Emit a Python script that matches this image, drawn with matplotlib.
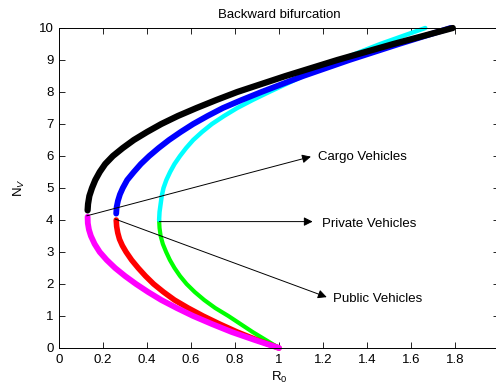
import matplotlib
matplotlib.use("Agg")
import matplotlib.pyplot as plt

plt.rcParams['font.family'] = ['Liberation Sans', 'DejaVu Sans']
plt.rcParams['mathtext.fontset'] = 'custom'
plt.rcParams['mathtext.rm'] = 'Liberation Sans'
plt.rcParams['mathtext.it'] = 'Liberation Sans:italic'

# ---- data (N_V on y, R_0 on x) ----
black_N = [4.3, 4.5, 4.75, 5.0, 5.25, 5.5, 5.75, 6.0, 6.25, 6.5, 6.75, 7.0, 7.25,
           7.5, 7.75, 8.0, 8.5, 9.0, 9.5, 10.0]
black_R = [0.13, 0.132, 0.138, 0.15, 0.165, 0.185, 0.21, 0.245, 0.29, 0.34, 0.4, 0.465, 0.54,
           0.625, 0.715, 0.81, 1.03, 1.265, 1.52, 1.79]

magenta_N = [4.1, 3.9, 3.7, 3.5, 3.25, 3.0, 2.75, 2.5, 2.25, 2.0, 1.75, 1.5, 1.25,
             1.0, 0.75, 0.5, 0.25, 0.0]
magenta_R = [0.13, 0.131, 0.136, 0.145, 0.162, 0.185, 0.217, 0.255, 0.3, 0.35, 0.405, 0.465, 0.535,
             0.61, 0.695, 0.785, 0.89, 1.0]

blue_N = [4.2, 4.4, 4.6, 4.8, 5.0, 5.25, 5.5, 5.75, 6.0, 6.25, 6.5, 6.75, 7.0,
          7.25, 7.5, 7.75, 8.0, 8.5, 9.0, 9.5, 10.0]
blue_R = [0.26, 0.262, 0.268, 0.277, 0.29, 0.31, 0.34, 0.372, 0.41, 0.453, 0.5, 0.553, 0.61,
          0.675, 0.745, 0.83, 0.92, 1.11, 1.32, 1.545, 1.78]

red_N = [4.0, 3.8, 3.6, 3.4, 3.2, 3.0, 2.75, 2.5, 2.25, 2.0, 1.75, 1.5, 1.25,
         1.0, 0.75, 0.5, 0.25, 0.0]
red_R = [0.26, 0.262, 0.267, 0.275, 0.288, 0.305, 0.33, 0.36, 0.393, 0.43, 0.475, 0.525, 0.587,
         0.655, 0.73, 0.81, 0.9, 1.0]

cyan_N = [4.0, 4.25, 4.5, 4.75, 5.0, 5.25, 5.5, 5.75, 6.0, 6.25, 6.5, 6.75, 7.0,
          7.25, 7.5, 7.75, 8.0, 8.5, 9.0, 9.5, 10.0]
cyan_R = [0.455, 0.457, 0.462, 0.467, 0.475, 0.488, 0.505, 0.525, 0.55, 0.578, 0.61, 0.65, 0.695,
          0.75, 0.81, 0.88, 0.955, 1.11, 1.275, 1.46, 1.665]

green_N = [4.0, 3.75, 3.5, 3.25, 3.0, 2.75, 2.5, 2.25, 2.0, 1.75, 1.5, 1.25,
           1.0, 0.75, 0.5, 0.25, 0.0]
green_R = [0.455, 0.457, 0.462, 0.472, 0.487, 0.504, 0.525, 0.55, 0.58, 0.617, 0.66, 0.71,
           0.77, 0.825, 0.88, 0.94, 1.0]

x_ticks = [0, 0.2, 0.4, 0.6, 0.8, 1.0, 1.2, 1.4, 1.6, 1.8, 2.0]
x_tick_labels = ['0', '0.2', '0.4', '0.6', '0.8', '1', '1.2', '1.4', '1.6', '1.8', '2']
y_ticks = [0, 1, 2, 3, 4, 5, 6, 7, 8, 9, 10]

# annotations: (label, start R, start N, tip R, tip N, text R, text N)
annotations = [
    ("Cargo Vehicles", 0.126, 4.13, 1.145, 5.98, 1.176, 5.97),
    ("Private Vehicles", 0.455, 3.95, 1.153, 3.95, 1.194, 3.87),
    ("Public Vehicles", 0.255, 4.03, 1.217, 1.59, 1.244, 1.52),
]

fig = plt.figure(figsize=(4.96, 3.92), dpi=100)
ax = fig.add_axes([59/496, 1 - 348/392, 440/496, 320/392])

kw = dict(solid_capstyle='round', solid_joinstyle='round', clip_on=False)
ax.plot(green_R, green_N, color='#00ff00', lw=3.0, **kw)
ax.plot(cyan_R, cyan_N, color='#00ffff', lw=3.2, **kw)
ax.plot(red_R, red_N, color='#ff0000', lw=4.0, **kw)
ax.plot(magenta_R, magenta_N, color='#ff00ff', lw=4.2, **kw)
ax.plot(blue_R, blue_N, color='#0000ff', lw=4.2, **kw)
ax.plot(black_R, black_N, color='#000000', lw=4.5, **kw)

for label, sr, sn, tr, tn, xr, yn in annotations:
    ax.annotate('', xy=(tr, tn), xytext=(sr, sn),
                arrowprops=dict(arrowstyle='-|>', mutation_scale=13, lw=0.7,
                                color='black', shrinkA=0, shrinkB=0))
    ax.text(xr, yn, label, fontsize=9.5, va='center', ha='left')

ax.set_xlim(0, 2)
ax.set_ylim(0, 10)
ax.set_xticks(x_ticks)
ax.set_xticklabels(x_tick_labels)
ax.set_yticks(y_ticks)
ax.tick_params(direction='in', length=4, width=0.6, top=True, right=True,
               labelsize=9.5, pad=4)
for s in ax.spines.values():
    s.set_linewidth(0.7)

ax.set_title('Backward bifurcation', fontsize=9.5, pad=7)
ax.set_xlabel(r'R$_0$', fontsize=9.5, labelpad=3)
ax.set_ylabel(r'N$_V$', fontsize=9.5, labelpad=8)

fig.savefig('out.png', dpi=100)
